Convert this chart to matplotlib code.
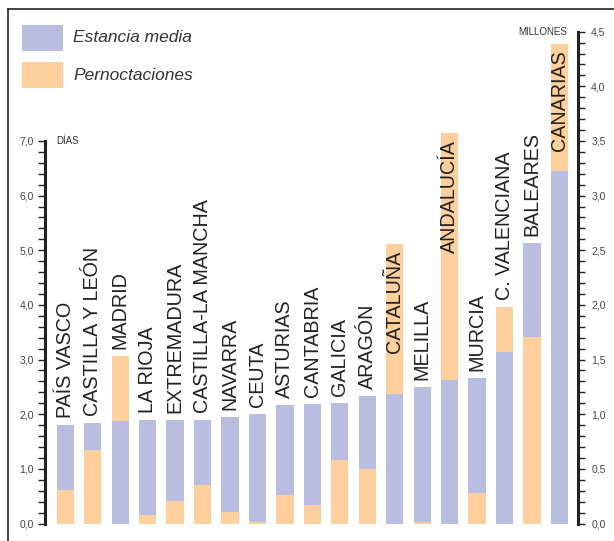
import numpy as np
import matplotlib
matplotlib.use('Agg')
import matplotlib.pyplot as plt
from matplotlib.patches import Rectangle
from matplotlib.lines import Line2D
from matplotlib.ticker import FuncFormatter

plt.rcParams['font.family'] = ['Liberation Sans', 'DejaVu Sans']

# Data: regions, average stay (days) and overnight stays (millions)
regiones = ['PAÍS VASCO', 'CASTILLA Y LEÓN', 'MADRID', 'LA RIOJA', 'EXTREMADURA',
            'CASTILLA-LA MANCHA', 'NAVARRA', 'CEUTA', 'ASTURIAS', 'CANTABRIA',
            'GALICIA', 'ARAGÓN', 'CATALUÑA', 'MELILLA', 'ANDALUCÍA', 'MURCIA',
            'C. VALENCIANA', 'BALEARES', 'CANARIAS']
estancia = [1.80, 1.84, 1.88, 1.89, 1.89, 1.89, 1.95, 2.00, 2.17, 2.19,
            2.21, 2.33, 2.37, 2.50, 2.63, 2.66, 3.14, 5.13, 6.45]
pernoct = [0.31, 0.67, 1.53, 0.08, 0.21, 0.35, 0.105, 0.015, 0.26, 0.17,
           0.58, 0.50, 2.56, 0.015, 3.57, 0.28, 1.98, 1.71, 4.39]
# labels written inside the orange bar
dentro = ['CATALUÑA', 'ANDALUCÍA', 'CANARIAS']
series = ['Estancia media', 'Pernoctaciones']

azul = '#b9bddf'
naranja = '#fed09e'
gris = '#444444'

W, H = 614, 541
fig = plt.figure(figsize=(W/100, H/100), dpi=100)
ax = fig.add_axes([45/W, 1-523.5/H, 533/W, 491.8/H])
ax2 = ax.twinx()

x = np.arange(len(regiones))
w = 0.63
ymax_d, ymax_m = 9.0, 4.5

for i in x:
    est_taller = estancia[i]/ymax_d >= pernoct[i]/ymax_m
    ax.bar(x[i], estancia[i], w, color=azul, lw=0, zorder=1 if est_taller else 2)
    ax.bar(x[i], pernoct[i], w, color=naranja, lw=0, zorder=2 if est_taller else 1,
           transform=ax2.transData)
    if regiones[i] in dentro:
        ax.annotate(regiones[i], (x[i], pernoct[i]), xycoords=('data', ax2.transData),
                    xytext=(0, -7), textcoords='offset pixels', rotation=90,
                    ha='center', va='top', fontsize=14.2, color='#222222', zorder=5)
    else:
        top = max(estancia[i], pernoct[i]*ymax_d/ymax_m)
        ax.annotate(regiones[i], (x[i], top), xytext=(0, 7), textcoords='offset pixels',
                    rotation=90, ha='center', va='bottom', fontsize=14.2,
                    color='#222222', zorder=5)

ax.set_xlim(-0.739, len(regiones) - 1 + 0.674)
ax.set_ylim(0, ymax_d)
ax2.set_ylim(0, ymax_m)

coma = FuncFormatter(lambda v, p: f'{v:.1f}'.replace('.', ','))

for s in ['top', 'right', 'bottom']:
    ax.spines[s].set_visible(False)
for s in ['top', 'left', 'bottom']:
    ax2.spines[s].set_visible(False)
ax.spines['left'].set_bounds(0, 7)
ax.spines['left'].set_linewidth(2.2)
ax.spines['left'].set_color('#222222')
ax2.spines['right'].set_bounds(0, 4.5)
ax2.spines['right'].set_linewidth(2.2)
ax2.spines['right'].set_color('#222222')

ax.set_yticks(np.arange(0, 7.01, 1))
ax.set_yticks(np.arange(0, 7.01, 0.2), minor=True)
ax2.set_yticks(np.arange(0, 4.51, 0.5))
ax2.set_yticks(np.arange(0, 4.51, 0.1), minor=True)
ax.yaxis.set_major_formatter(coma)
ax2.yaxis.set_major_formatter(coma)
for a in (ax, ax2):
    a.tick_params(axis='y', which='both', direction='out', length=5, width=1,
                  color='#222222', labelsize=7.5, labelcolor=gris)
ax.tick_params(axis='y', which='major', pad=3)
ax2.tick_params(axis='y', which='major', pad=4.5)
ax.set_xticks([])

ax.annotate('DÍAS', (0, 7), xycoords=('axes fraction', 'data'), xytext=(11.5, 0),
            textcoords='offset pixels', ha='left', va='center', fontsize=7, color='#333333')
ax2.annotate('MILLONES', (1, 4.5), xycoords=('axes fraction', 'data'), xytext=(-11, 0),
             textcoords='offset pixels', ha='right', va='center', fontsize=7, color='#333333')

# legend drawn by hand: swatch + italic label
for j, (nombre, col) in enumerate(zip(series, [azul, naranja])):
    y0 = 25 + 37*j
    fig.add_artist(Rectangle((22/W, 1-(y0+26)/H), 41/W, 26/H, color=col, lw=0,
                             transform=fig.transFigure))
    fig.text(73/W, 1-(y0+13)/H, nombre, ha='left', va='center', fontsize=12.5,
             style='italic', color='#333333')

# frame lines (top and left)
fig.add_artist(Line2D([8/W, 1], [1-9/H, 1-9/H], color='#222222', lw=1.2))
fig.add_artist(Line2D([8/W, 8/W], [0, 1-9/H], color='#222222', lw=1.2))

fig.savefig('out.png', dpi=100)
